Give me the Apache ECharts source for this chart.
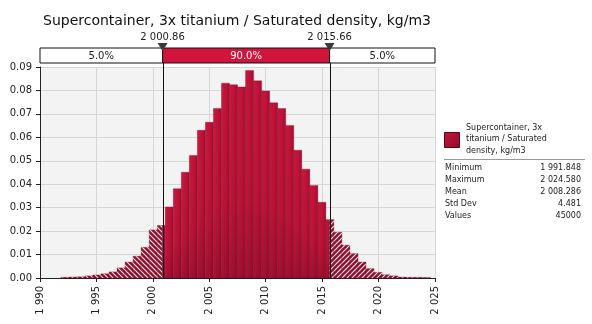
<!DOCTYPE html>
<html><head><meta charset="utf-8">
<script src="https://cdn.jsdelivr.net/npm/echarts@6/dist/echarts.min.js"></script>
<style>html,body{margin:0;padding:0;background:#fff}#c{width:592px;height:324px}</style>
</head><body><div id="c"></div>
<script>
// ---------- data ----------
const titleText = 'Supercontainer, 3x titanium / Saturated density, kg/m3';
const seriesName = 'Supercontainer, 3x\ntitanium / Saturated\ndensity, kg/m3';
const dataMin = 1991.848;
const dataMax = 2024.580;
const binCount = 46;
const density = [
  0.0003, 0.0004, 0.0005, 0.0009, 0.0013, 0.0018, 0.0026, 0.0043, 0.0068, 0.0093,
  0.0131, 0.0205, 0.0224, 0.0303, 0.0381, 0.0451, 0.0523, 0.0630, 0.0664, 0.0723,
  0.0831, 0.0824, 0.0815, 0.0885, 0.0841, 0.0798, 0.0747, 0.0723, 0.0651, 0.0545,
  0.0464, 0.0395, 0.0323, 0.0249, 0.0195, 0.0140, 0.0104, 0.0068, 0.0040, 0.0024,
  0.0014, 0.0009, 0.0004, 0.0003, 0.0003, 0.0002
];
const lowerDelimiter = 2000.86;
const upperDelimiter = 2015.66;
const bandLabels = ['5.0%', '90.0%', '5.0%'];
const xMin = 1990, xMax = 2025, xStep = 5;
const yMin = 0, yMax = 0.09, yStep = 0.01;
const statLabels = ['Minimum', 'Maximum', 'Mean', 'Std Dev', 'Values'];
const statValues = ['1 991.848', '2 024.580', '2 008.286', '4.481', '45000'];

// ---------- helpers ----------
function fmtNum(v, d) {
  const s = v.toFixed(d);
  const parts = s.split('.');
  parts[0] = parts[0].replace(/\B(?=(\d{3})+(?!\d))/g, ' ');
  return parts.join('.');
}
function makeHatch(dir) {
  const s = 5;
  const c = document.createElement('canvas');
  c.width = s; c.height = s;
  const g = c.getContext('2d');
  g.fillStyle = '#940d2c';
  g.fillRect(0, 0, s, s);
  g.strokeStyle = 'rgba(255,255,255,0.95)';
  g.lineWidth = 1.1;
  g.beginPath();
  for (let k = -1; k <= 1; k++) {
    if (dir === 'L') { g.moveTo(k * s - 1, -1); g.lineTo(k * s + s + 1, s + 1); }
    else { g.moveTo(k * s - 1, s + 1); g.lineTo(k * s + s + 1, -1); }
  }
  g.stroke();
  return { image: c, repeat: 'repeat' };
}
const hatchL = makeHatch('L');
const hatchR = makeHatch('R');
const solidFill = {
  type: 'linear', x: 0, y: 0, x2: 1, y2: 0,
  colorStops: [{ offset: 0, color: '#cf163f' }, { offset: 0.55, color: '#bf1238' }, { offset: 1, color: '#a00f31' }]
};
const shadeFill = {
  type: 'linear', x: 0, y: 0, x2: 0, y2: 1,
  colorStops: [{ offset: 0, color: 'rgba(60,0,15,0)' }, { offset: 0.6, color: 'rgba(60,0,15,0.06)' }, { offset: 1, color: 'rgba(60,0,15,0.25)' }]
};

const binW = (dataMax - dataMin) / binCount;
const histData = density.map((v, i) => [dataMin + i * binW, dataMin + (i + 1) * binW, v]);
const bandEdges = [xMin, lowerDelimiter, upperDelimiter, xMax];
const bandData = bandLabels.map((l, i) => [bandEdges[i], bandEdges[i + 1], i]);
const delimData = [[lowerDelimiter], [upperDelimiter]];

const FONT = 'DejaVu Sans';

function renderHist(params, api) {
  const x0 = api.value(0), x1 = api.value(1), v = api.value(2);
  const segs = [
    [x0, Math.min(x1, lowerDelimiter), hatchL],
    [Math.max(x0, lowerDelimiter), Math.min(x1, upperDelimiter), solidFill],
    [Math.max(x0, upperDelimiter), x1, hatchR]
  ];
  const children = [];
  segs.forEach(([a, b, fill]) => {
    if (b <= a) return;
    const p0 = api.coord([a, v]);
    const p1 = api.coord([b, 0]);
    const shape = { x: p0[0], y: p0[1], width: p1[0] - p0[0], height: p1[1] - p0[1] };
    children.push({
      type: 'rect', shape: shape,
      style: { fill: fill, stroke: 'rgba(100,0,25,0.5)', lineWidth: 0.6 }
    });
    if (fill === solidFill) {
      children.push({ type: 'rect', shape: shape, style: { fill: shadeFill }, silent: true });
    }
  });
  return { type: 'group', children: children };
}

function renderBand(params, api) {
  const a = api.value(0), b = api.value(1), idx = api.value(2);
  const p0 = api.coord([a, 1]);
  const p1 = api.coord([b, 0]);
  const mid = idx === 1;
  return {
    type: 'group',
    children: [{
      type: 'rect',
      shape: { x: p0[0], y: p0[1], width: p1[0] - p0[0], height: p1[1] - p0[1] },
      style: { fill: mid ? '#d0143c' : '#ffffff', stroke: '#111', lineWidth: 1 }
    }, {
      type: 'text',
      style: {
        text: bandLabels[idx], x: (p0[0] + p1[0]) / 2, y: (p0[1] + p1[1]) / 2 + 0.5,
        align: 'center', verticalAlign: 'middle',
        fill: mid ? '#ffffff' : '#222', font: '10px ' + FONT
      }
    }]
  };
}

function renderMarker(params, api) {
  const x = api.value(0);
  const p = api.coord([x, 1]);
  return {
    type: 'group',
    children: [{
      type: 'polygon',
      shape: { points: [[p[0] - 5, p[1] - 5], [p[0] + 5, p[1] - 5], [p[0], p[1] + 3]] },
      style: { fill: '#3a3a3a' }
    }, {
      type: 'text',
      style: {
        text: fmtNum(x, 2), x: p[0], y: p[1] - 11,
        align: 'center', verticalAlign: 'middle', fill: '#222', font: '10px ' + FONT
      }
    }]
  };
}

function renderDelimLine(params, api) {
  const x = api.value(0);
  const top = api.coord([x, yMax]);
  const bot = api.coord([x, yMin]);
  return {
    type: 'line',
    shape: { x1: Math.round(top[0]) + 0.5, y1: top[1] - 4, x2: Math.round(top[0]) + 0.5, y2: bot[1] },
    style: { stroke: '#111', lineWidth: 1 }
  };
}

const chart = echarts.init(document.getElementById('c'), null, { renderer: 'canvas' });

const statsGraphics = [];
statLabels.forEach((l, i) => {
  statsGraphics.push({ type: 'text', left: 445, top: 164 + i * 12, style: { text: l, font: '8px ' + FONT, fill: '#222' } });
  statsGraphics.push({ type: 'text', right: 11, top: 164 + i * 12, style: { text: statValues[i], font: '8px ' + FONT, fill: '#222', align: 'right' } });
});

chart.setOption({
  animation: false,
  backgroundColor: '#ffffff',
  title: {
    text: titleText, left: 232, textAlign: 'center', top: 9,
    textStyle: { fontFamily: FONT, fontSize: 14, fontWeight: 'normal', color: '#111' }
  },
  grid: [
    { left: 40, top: 67, width: 395, height: 211, show: true, backgroundColor: '#f3f3f3', borderWidth: 0 },
    { left: 40, top: 48, width: 395, height: 15, show: false }
  ],
  xAxis: [{
    gridIndex: 0, type: 'value', min: xMin, max: xMax, interval: xStep,
    axisLine: { show: true, onZero: false, lineStyle: { color: '#222', width: 1 } },
    axisTick: { show: true, length: 4, lineStyle: { color: '#222' } },
    axisLabel: { rotate: 90, margin: 8, fontFamily: FONT, fontSize: 10, color: '#222', formatter: v => fmtNum(v, 0) },
    splitLine: { show: true, lineStyle: { color: '#d6d6d6', width: 1 } }
  }, {
    gridIndex: 1, type: 'value', min: xMin, max: xMax, show: false
  }],
  yAxis: [{
    gridIndex: 0, type: 'value', min: yMin, max: yMax, interval: yStep,
    axisLine: { show: true, lineStyle: { color: '#222', width: 1 } },
    axisTick: { show: true, length: 4, lineStyle: { color: '#222' } },
    axisLabel: { margin: 8, fontFamily: FONT, fontSize: 10, color: '#222', formatter: v => v.toFixed(2) },
    splitLine: { show: true, lineStyle: { color: '#d6d6d6', width: 1 } }
  }, {
    gridIndex: 1, type: 'value', min: 0, max: 1, show: false
  }],
  series: [{
    type: 'custom', name: 'hist', xAxisIndex: 0, yAxisIndex: 0, renderItem: renderHist,
    data: histData, encode: { x: [0, 1], y: 2 }, clip: false, z: 2
  }, {
    type: 'custom', name: 'delim', xAxisIndex: 0, yAxisIndex: 0, renderItem: renderDelimLine,
    data: delimData, encode: { x: 0 }, clip: false, z: 5
  }, {
    type: 'custom', name: 'band', xAxisIndex: 1, yAxisIndex: 1, renderItem: renderBand,
    data: bandData, encode: { x: [0, 1] }, clip: false, z: 3
  }, {
    type: 'custom', name: 'marker', xAxisIndex: 1, yAxisIndex: 1, renderItem: renderMarker,
    data: delimData, encode: { x: 0 }, clip: false, z: 6
  }],
  graphic: [
    { type: 'rect', left: 444, top: 132, shape: { width: 15, height: 15 },
      style: { fill: { type: 'linear', x: 0, y: 0, x2: 1, y2: 1, colorStops: [{ offset: 0, color: '#c8143c' }, { offset: 1, color: '#8e0c2b' }] }, stroke: '#5a0718', lineWidth: 1 } },
    { type: 'text', left: 466, top: 122, style: { text: seriesName, font: '8px ' + FONT, fill: '#222', lineHeight: 11.5 } },
    { type: 'line', shape: { x1: 444, y1: 159.5, x2: 585, y2: 159.5 }, style: { stroke: '#999', lineWidth: 1 } }
  ].concat(statsGraphics)
});
</script>
</body></html>
